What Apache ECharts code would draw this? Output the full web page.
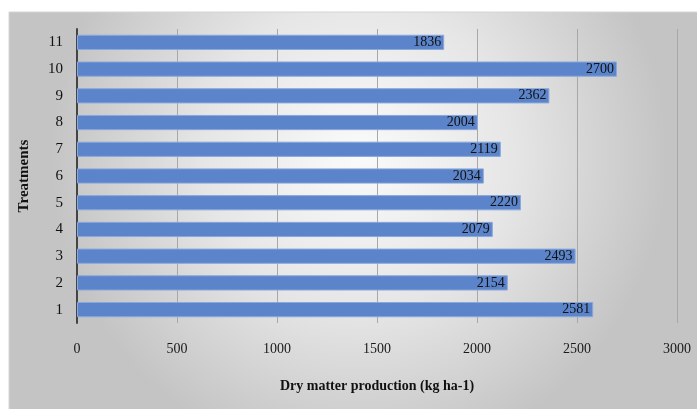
<!DOCTYPE html>
<html><head><meta charset="utf-8">
<script src="https://cdn.jsdelivr.net/npm/echarts@6/dist/echarts.min.js"></script>
<style>html,body{margin:0;padding:0;background:#fff}#c{width:697px;height:409px}</style>
</head><body><div id="c"></div>
<script>
var categories = ['1','2','3','4','5','6','7','8','9','10','11'];
var values = [2581, 2154, 2493, 2079, 2220, 2034, 2119, 2004, 2362, 2700, 1836];
var xTicks = [0, 500, 1000, 1500, 2000, 2500, 3000];

var chart = echarts.init(document.getElementById('c'));
var serif = '"Liberation Serif", "DejaVu Serif", serif';
chart.setOption({
  animation: false,
  graphic: [{
    type: 'rect', z: -10, silent: true,
    shape: {x: 9, y: 12, width: 700, height: 410},
    style: {
      fill: new echarts.graphic.RadialGradient(0.5, 0.35, 0.75, [
        {offset: 0, color: '#fafafa'},
        {offset: 0.5, color: '#e6e6e6'},
        {offset: 1, color: '#c4c4c4'}
      ]),
      stroke: '#d4d4d4', lineWidth: 1
    }
  }],
  grid: {left: 77, right: 20, top: 29, bottom: 86, containLabel: false},
  xAxis: {
    type: 'value', min: 0, max: 3000, interval: 500,
    axisLine: {show: false}, axisTick: {show: false},
    splitLine: {show: true, lineStyle: {color: '#a8a8a8', width: 1}},
    axisLabel: {margin: 19, color: '#1a1a1a', fontFamily: serif, fontSize: 14,
      formatter: function(v){ return xTicks.indexOf(v) >= 0 ? String(v) : ''; }},
    name: 'Dry matter production (kg ha-1)', nameLocation: 'middle', nameGap: 56,
    nameTextStyle: {color: '#111', fontFamily: serif, fontSize: 14, fontWeight: 'bold'}
  },
  yAxis: {
    type: 'category', data: categories,
    axisLine: {show: true, lineStyle: {color: '#444', width: 2}},
    axisTick: {show: false},
    axisLabel: {margin: 14, color: '#111', fontFamily: serif, fontSize: 15},
    name: 'Treatments', nameLocation: 'middle', nameGap: 45, nameRotate: 90,
    nameTextStyle: {color: '#111', fontFamily: serif, fontSize: 15, fontWeight: 'bold'}
  },
  series: [{
    type: 'bar', data: values, barWidth: '57%',
    itemStyle: {color: '#5b84cb', borderColor: '#8aa8dc', borderWidth: 1},
    label: {show: true, position: 'insideRight', distance: 3, color: '#111',
      fontFamily: serif, fontSize: 14}
  }]
});
</script></body></html>
